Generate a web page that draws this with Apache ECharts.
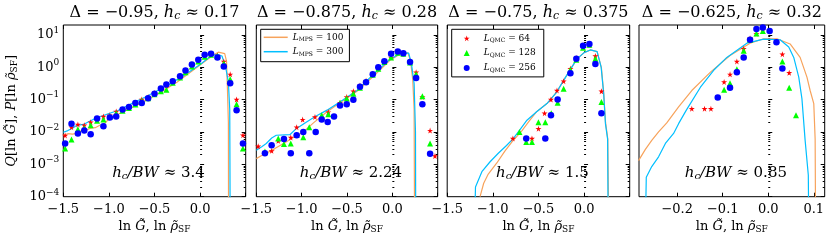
<!DOCTYPE html>
<html><head><meta charset="utf-8">
<script src="https://cdn.jsdelivr.net/npm/echarts@6/dist/echarts.min.js"></script>
<style>html,body{margin:0;padding:0;background:#fff}#c{width:830px;height:245px}</style>
</head><body><div id="c"></div>
<script>
// ---------------- DATA ----------------
const deltaLabels = ['−0.95', '−0.875', '−0.75', '−0.625'];
const hcLabels = ['0.17', '0.28', '0.375', '0.32'];
const bwLabels = ['3.4', '2.24', '1.5', '0.85'];
const yMajorTicks = [1e-4, 1e-3, 1e-2, 1e-1, 1, 10];
const yMinorMantissas = [2, 3, 4, 5, 6, 7, 8, 9];
const xTicksWide = [-1.5, -1.0, -0.5, 0.0, 0.5];
const xLabelsWide = [-1.5, -1.0, -0.5, 0.0];
const xTicksNarrow = [-0.2, -0.1, 0.0, 0.1];
const seriesNames = ['L_MPS = 100', 'L_MPS = 300', 'L_QMC = 64', 'L_QMC = 128', 'L_QMC = 256'];

// Panel 1 (Δ = -0.95)
const p1_mps100 = [[-1.5,0.0079],[-1.45,0.0088],[-1.4,0.0085],[-1.35,0.009],[-1.3,0.011],[-1.25,0.0115],[-1.2,0.013],[-1.15,0.0135],[-1.1,0.016],[-1.05,0.018],[-1.0,0.025],[-0.95,0.03],[-0.85,0.041],[-0.7,0.066],[-0.55,0.11],[-0.4,0.19],[-0.25,0.35],[-0.1,0.72],[0.05,1.5],[0.15,2.4],[0.2,2.9],[0.27,2.6],[0.29,1.5],[0.3,0.2],[0.31,0.02],[0.312,0.00001]];
const p1_mps300 = [[-1.5,0.0098],[-1.45,0.011],[-1.4,0.013],[-1.35,0.016],[-1.28,0.017],[-1.2,0.022],[-1.15,0.026],[-1.0,0.037],[-0.9,0.046],[-0.75,0.075],[-0.6,0.12],[-0.45,0.2],[-0.3,0.34],[-0.15,0.62],[0.0,1.2],[0.1,2.0],[0.14,2.4],[0.2,2.4],[0.24,2.2],[0.28,1.0],[0.31,0.35],[0.325,0.05],[0.33,0.00001]];
const p1_qmc64 = [[-1.48,0.0078],[-1.41,0.014],[-1.34,0.017],[-1.27,0.016],[-1.2,0.02],[-1.13,0.024],[-1.06,0.03],[-0.99,0.033],[-0.92,0.043],[-0.85,0.048],[-0.78,0.06],[-0.71,0.075],[-0.64,0.1],[-0.57,0.12],[-0.5,0.16],[-0.43,0.2],[-0.37,0.27],[-0.3,0.36],[-0.22,0.5],[-0.16,0.75],[-0.09,1.1],[-0.02,1.6],[0.05,2.2],[0.12,2.5],[0.19,2.3],[0.26,1.5],[0.33,0.6],[0.4,0.1],[0.47,0.0079]];
const p1_qmc128 = [[-1.48,0.0031],[-1.41,0.0058],[-1.34,0.012],[-1.27,0.013],[-1.2,0.016],[-1.13,0.022],[-1.06,0.024],[-0.99,0.03],[-0.92,0.037],[-0.85,0.045],[-0.78,0.055],[-0.71,0.07],[-0.64,0.09],[-0.57,0.11],[-0.5,0.145],[-0.43,0.18],[-0.37,0.2],[-0.3,0.33],[-0.22,0.48],[-0.16,0.7],[-0.09,1.05],[-0.02,1.5],[0.05,2.1],[0.12,2.4],[0.19,2.2],[0.26,1.3],[0.33,0.42],[0.4,0.072],[0.47,0.0031]];
const p1_qmc256 = [[-1.48,0.0044],[-1.41,0.018],[-1.34,0.0089],[-1.27,0.011],[-1.2,0.0085],[-1.13,0.026],[-1.06,0.015],[-0.99,0.028],[-0.92,0.03],[-0.85,0.049],[-0.78,0.059],[-0.71,0.078],[-0.64,0.078],[-0.57,0.11],[-0.5,0.15],[-0.43,0.22],[-0.37,0.29],[-0.3,0.37],[-0.22,0.52],[-0.16,0.79],[-0.09,1.21],[-0.02,1.69],[0.05,2.4],[0.12,2.6],[0.19,2.0],[0.26,1.05],[0.33,0.32],[0.4,0.047],[0.47,0.0044]];

// Panel 2 (Δ = -0.875)
const p2_mps100 = [[-1.5,0.0015],[-1.45,0.0018],[-1.39,0.0022],[-1.3,0.003],[-1.2,0.0044],[-1.1,0.0065],[-0.98,0.01],[-0.87,0.019],[-0.72,0.042],[-0.55,0.09],[-0.39,0.18],[-0.2,0.55],[-0.03,1.6],[0.09,2.6],[0.17,2.8],[0.2,1.6],[0.225,0.4],[0.24,0.05],[0.245,0.00001]];
const p2_mps300 = [[-1.5,0.0027],[-1.44,0.0035],[-1.39,0.0044],[-1.33,0.0065],[-1.28,0.0079],[-1.13,0.0082],[-1.06,0.0126],[-0.95,0.02],[-0.85,0.03],[-0.72,0.047],[-0.55,0.095],[-0.39,0.19],[-0.21,0.6],[-0.03,1.7],[0.09,2.7],[0.18,2.7],[0.21,1.3],[0.24,0.31],[0.255,0.01],[0.258,0.00001]];
const p2_qmc64 = [[-1.479,0.0036],[-1.331,0.0026],[-1.258,0.0053],[-1.12,0.0067],[-1.055,0.014],[-0.989,0.024],[-0.853,0.029],[-0.706,0.041],[-0.577,0.08],[-0.503,0.12],[-0.43,0.18],[-0.357,0.27],[-0.29,0.38],[-0.216,0.62],[-0.155,0.95],[-0.088,1.5],[-0.014,2.0],[0.06,2.8],[0.121,2.6],[0.195,1.5],[0.262,0.7],[0.331,0.12],[0.416,0.011],[0.47,0.0018]];
const p2_qmc128 = [[-1.405,0.0025],[-1.258,0.0063],[-1.195,0.0042],[-1.12,0.0044],[-1.055,0.008],[-0.982,0.0068],[-0.916,0.014],[-0.779,0.033],[-0.706,0.035],[-0.577,0.078],[-0.503,0.107],[-0.43,0.15],[-0.357,0.23],[-0.29,0.36],[-0.216,0.58],[-0.155,0.89],[-0.088,1.45],[-0.014,2.0],[0.06,2.8],[0.121,2.6],[0.195,1.4],[0.262,0.6],[0.331,0.126],[0.416,0.0044]];
const p2_qmc256 = [[-1.405,0.0022],[-1.331,0.0039],[-1.195,0.006],[-1.12,0.0022],[-1.055,0.0079],[-0.982,0.01],[-0.916,0.0022],[-0.845,0.01],[-0.779,0.024],[-0.713,0.0204],[-0.643,0.03],[-0.577,0.066],[-0.503,0.071],[-0.43,0.099],[-0.357,0.25],[-0.29,0.34],[-0.216,0.6],[-0.155,1.0],[-0.088,1.53],[-0.014,2.57],[0.06,3.04],[0.121,2.7],[0.195,1.43],[0.262,0.46],[0.331,0.071],[0.416,0.0021]];

// Panel 3 (Δ = -0.75)
const p3_mps100 = [[-1.14,0.0001],[-1.1,0.00026],[-1.05,0.0005],[-0.956,0.0011],[-0.87,0.0025],[-0.79,0.0049],[-0.68,0.011],[-0.6,0.022],[-0.52,0.042],[-0.407,0.075],[-0.3,0.17],[-0.224,0.39],[-0.15,0.85],[-0.077,1.8],[0.0,2.8],[0.069,3.4],[0.143,3.0],[0.19,0.95],[0.215,0.16],[0.235,0.02],[0.26,0.006],[0.27,0.00001]];
const p3_mps300 = [[-1.2,0.00001],[-1.19,0.0002],[-1.12,0.00059],[-1.03,0.0012],[-0.94,0.0022],[-0.85,0.0038],[-0.774,0.0063],[-0.7,0.012],[-0.626,0.023],[-0.52,0.042],[-0.407,0.075],[-0.3,0.17],[-0.224,0.39],[-0.15,0.85],[-0.077,1.8],[0.0,2.8],[0.069,3.4],[0.143,3.0],[0.187,1.0],[0.215,0.15],[0.234,0.018],[0.258,0.006],[0.264,0.00001]];
const p3_qmc64 = [[-0.78,0.0063],[-0.571,0.0063],[-0.5,0.0126],[-0.433,0.038],[-0.363,0.1],[-0.297,0.19],[-0.224,0.37],[-0.15,0.9],[-0.085,1.9],[-0.011,4.1],[0.058,4.8],[0.124,2.2],[0.19,0.18]];
const p3_qmc128 = [[-0.708,0.01],[-0.634,0.0049],[-0.571,0.0049],[-0.5,0.02],[-0.425,0.02],[-0.36,0.038],[-0.29,0.08],[-0.224,0.216],[-0.15,0.83],[-0.085,1.7],[-0.011,4.0],[0.058,4.9],[0.124,1.8],[0.19,0.084]];
const p3_qmc256 = [[-0.634,0.0063],[-0.425,0.0063],[-0.363,0.033],[-0.29,0.1],[-0.15,0.65],[-0.085,1.8],[-0.011,4.6],[0.058,5.2],[0.124,1.26],[0.19,0.038]];

// Panel 4 (Δ = -0.625)
const p4_mps100 = [[-0.285,0.0013],[-0.27,0.0029],[-0.256,0.0055],[-0.241,0.01],[-0.223,0.019],[-0.197,0.059],[-0.168,0.19],[-0.127,0.7],[-0.084,2.3],[-0.04,5.5],[-0.01,7.5],[0.019,7.5],[0.048,5.2],[0.07,2.0],[0.085,0.49],[0.092,0.19],[0.1,0.075],[0.103,0.006],[0.104,0.00001]];
const p4_mps300 = [[-0.27,0.00001],[-0.268,0.0004],[-0.256,0.00085],[-0.241,0.0017],[-0.226,0.0044],[-0.208,0.009],[-0.197,0.018],[-0.18,0.047],[-0.149,0.24],[-0.12,0.8],[-0.091,2.0],[-0.047,5.5],[-0.01,7.3],[0.026,7.0],[0.045,4.2],[0.056,2.0],[0.067,0.49],[0.074,0.105],[0.081,0.0055],[0.088,0.00046],[0.089,0.00001]];
const p4_qmc64 = [[-0.168,0.052],[-0.14,0.052],[-0.126,0.052],[-0.097,0.35],[-0.084,0.6],[-0.069,1.5],[-0.054,3.7],[-0.04,7.8],[-0.026,10.7],[-0.012,14],[0.031,2.5],[0.046,0.67]];
const p4_qmc128 = [[-0.097,0.2],[-0.084,0.32],[-0.069,0.86],[-0.054,3.2],[-0.04,7],[-0.026,11],[-0.012,13],[0.031,1.5],[0.046,0.23],[0.061,0.033]];
const p4_qmc256 = [[-0.111,0.115],[-0.084,0.23],[-0.069,0.7],[-0.054,2.0],[-0.04,7.0],[-0.026,15],[-0.012,16.7],[0.003,13],[0.018,5.9],[0.031,0.9]];

const panelData = [
  [p1_mps100, p1_mps300, p1_qmc64, p1_qmc128, p1_qmc256],
  [p2_mps100, p2_mps300, p2_qmc64, p2_qmc128, p2_qmc256],
  [p3_mps100, p3_mps300, p3_qmc64, p3_qmc128, p3_qmc256],
  [p4_mps100, p4_mps300, p4_qmc64, p4_qmc128, p4_qmc256]
];

// ---------------- STYLE / LAYOUT ----------------
const FONT = 'DejaVu Serif';
const layout = [
  {left: 63.3, width: 182.4, xmin: -1.5, xmax: 0.5, ticks: xTicksWide, labels: xLabelsWide},
  {left: 256.3, width: 181.4, xmin: -1.5, xmax: 0.5, ticks: xTicksWide, labels: xLabelsWide},
  {left: 447.2, width: 182.5, xmin: -1.5, xmax: 0.5, ticks: xTicksWide, labels: xLabelsWide},
  {left: 639.0, width: 185.7, xmin: -0.284, xmax: 0.124, ticks: xTicksNarrow, labels: xTicksNarrow}
];
const TOP = 25, H = 171.7;
const colors = ['#f7a35c', '#00bfff', '#ff0000', '#00ff00', '#0000ff'];
const STAR = 'path://M50,0 L61,35 L98,35 L68,57 L79,91 L50,70 L21,91 L32,57 L2,35 L39,35 Z';
const symbols = [null, null, STAR, 'triangle', 'circle'];
const symbolSizes = [0, 0, 6, 6, 6.5];

function rich(size) {
  const sm = Math.round(size * 0.68);
  return {
    n: {fontFamily: FONT, fontSize: size, color: '#000'},
    i: {fontFamily: FONT, fontSize: size, fontStyle: 'italic', color: '#000'},
    s: {fontFamily: FONT, fontSize: sm, color: '#000', padding: [Math.round(size * 0.45), 0, 0, 0]},
    si: {fontFamily: FONT, fontSize: sm, fontStyle: 'italic', color: '#000', padding: [Math.round(size * 0.45), 0, 0, 0]},
    sup: {fontFamily: FONT, fontSize: sm, color: '#000', padding: [0, 0, Math.round(size * 0.7), 0]}
  };
}
const fmtX = v => (v < -1e-9 ? '−' : '') + Math.abs(v).toFixed(1);
const fmtY = v => {
  const e = Math.round(Math.log10(v));
  return '{n|10}{sup|' + (e < 0 ? '−' + (-e) : e) + '}';
};
const yMinorTicks = [];
for (let e = -4; e <= 0; e++) yMinorMantissas.forEach(m => yMinorTicks.push(m * Math.pow(10, e)));

const grid = [], xAxis = [], yAxis = [], series = [], graphic = [];
layout.forEach((L, k) => {
  grid.push({left: L.left, top: TOP, width: L.width, height: H, show: true, borderColor: '#000', borderWidth: 1, backgroundColor: 'transparent'});
  const xBase = {type: 'value', gridIndex: k, min: L.xmin, max: L.xmax, splitLine: {show: false}, axisLine: {show: false}};
  xAxis.push(Object.assign({}, xBase, {
    position: 'bottom',
    axisTick: {show: true, inside: true, length: 4, lineStyle: {color: '#000'}, customValues: L.ticks},
    axisLabel: {customValues: L.labels, formatter: fmtX, fontFamily: FONT, fontSize: 13, color: '#000', margin: 6},
    name: '{n|ln }{i|G̃}{n|, ln }{i|ρ̃}{s|SF}', nameLocation: 'middle', nameGap: 22,
    nameTextStyle: {rich: rich(13), fontFamily: FONT}
  }));
  xAxis.push(Object.assign({}, xBase, {
    position: 'top',
    axisTick: {show: true, inside: true, length: 4, lineStyle: {color: '#000'}, customValues: L.ticks},
    axisLabel: {show: false}
  }));
  const yBase = {type: 'log', logBase: 10, gridIndex: k, min: 1e-4, max: 20, splitLine: {show: false}, axisLine: {show: false}};
  yAxis.push(Object.assign({}, yBase, {
    position: 'left',
    axisTick: {show: true, inside: true, length: 4, lineStyle: {color: '#000'}, customValues: yMajorTicks},
    axisLabel: {show: k === 0, customValues: yMajorTicks, formatter: fmtY, rich: rich(13), margin: 4},
    name: k === 0 ? '{i|Q}{n|[ln }{i|G̃}{n|], }{i|P}{n|[ln }{i|ρ̃}{s|SF}{n|]}' : '',
    nameLocation: 'middle', nameGap: 44, nameRotate: 90,
    nameTextStyle: {rich: rich(13), fontFamily: FONT}
  }));
  yAxis.push(Object.assign({}, yBase, {
    position: 'left',
    axisTick: {show: true, inside: true, length: 2, lineStyle: {color: '#000'}, customValues: yMinorTicks},
    axisLabel: {show: false}
  }));
  yAxis.push(Object.assign({}, yBase, {
    position: 'right',
    axisTick: {show: true, inside: true, length: 4, lineStyle: {color: '#000'}, customValues: yMajorTicks},
    axisLabel: {show: false}
  }));
  yAxis.push(Object.assign({}, yBase, {
    position: 'right',
    axisTick: {show: true, inside: true, length: 2, lineStyle: {color: '#000'}, customValues: yMinorTicks},
    axisLabel: {show: false}
  }));

  panelData[k].forEach((d, j) => {
    if (j < 2) {
      series.push({type: 'line', name: seriesNames[j], data: d, xAxisIndex: 2 * k, yAxisIndex: 4 * k,
        symbol: 'none', clip: true, z: 2, lineStyle: {color: colors[j], width: 1.2}, itemStyle: {color: colors[j]}});
    } else {
      series.push({type: 'scatter', name: seriesNames[j], data: d, xAxisIndex: 2 * k, yAxisIndex: 4 * k,
        symbol: symbols[j], symbolSize: symbolSizes[j], z: 3 + j, itemStyle: {color: colors[j], opacity: 1}});
    }
  });

  const cx = L.left + L.width / 2;
  graphic.push({type: 'text', x: cx, y: 13, z: 100, style: {
    text: '{n|Δ = ' + deltaLabels[k] + ', }{i|h}{si|c}{n| ≈ ' + hcLabels[k] + '}',
    rich: rich(16), align: 'center', verticalAlign: 'middle'}});
  graphic.push({type: 'text', x: cx + 4, y: 173, z: 100, style: {
    text: '{i|h}{si|c}{i|/BW}{n| ≈ ' + bwLabels[k] + '}',
    rich: rich(15), align: 'center', verticalAlign: 'middle'}});
});

const legendRich = {
  i0: {fontFamily: FONT, fontSize: 9, fontStyle: 'italic', color: '#000', padding: [0, 0, 0, 0]},
  i1: {fontFamily: FONT, fontSize: 9, fontStyle: 'italic', color: '#000', padding: [0, 0, 0, 9]},
  s: {fontFamily: FONT, fontSize: 6, color: '#000', padding: [5, 0, 0, 0]},
  n: {fontFamily: FONT, fontSize: 9, color: '#000'}
};
const legendFmt = (pad) => name => {
  const m = name.match(/^L_(\w+) = (\d+)$/);
  return '{' + pad + '|L}{s|' + m[1] + '}{n| = ' + m[2] + '}';
};

const option = {
  animation: false,
  backgroundColor: '#fff',
  grid, xAxis, yAxis, series, graphic,
  legend: [
    {data: [{name: seriesNames[0], icon: 'rect'}, {name: seriesNames[1], icon: 'rect'}],
      left: 260.7, top: 29.3, orient: 'vertical',
      itemWidth: 24, itemHeight: 1.5, itemGap: 2.4, padding: [2, 6, 4, 3],
      borderColor: '#000', borderWidth: 1, selectedMode: false,
      formatter: legendFmt('i0'), textStyle: {rich: legendRich, lineHeight: 12}},
    {data: [seriesNames[2], seriesNames[3], seriesNames[4]], left: 451.7, top: 29.3, orient: 'vertical',
      itemWidth: 6, itemHeight: 6, itemGap: 2.8, padding: [3, 8, 3, 12],
      borderColor: '#000', borderWidth: 1, selectedMode: false,
      formatter: legendFmt('i1'), textStyle: {rich: legendRich, lineHeight: 12}}
  ]
};

const chart = echarts.init(document.getElementById('c'), null, {renderer: 'canvas'});
chart.setOption(option);
</script>
</body></html>
